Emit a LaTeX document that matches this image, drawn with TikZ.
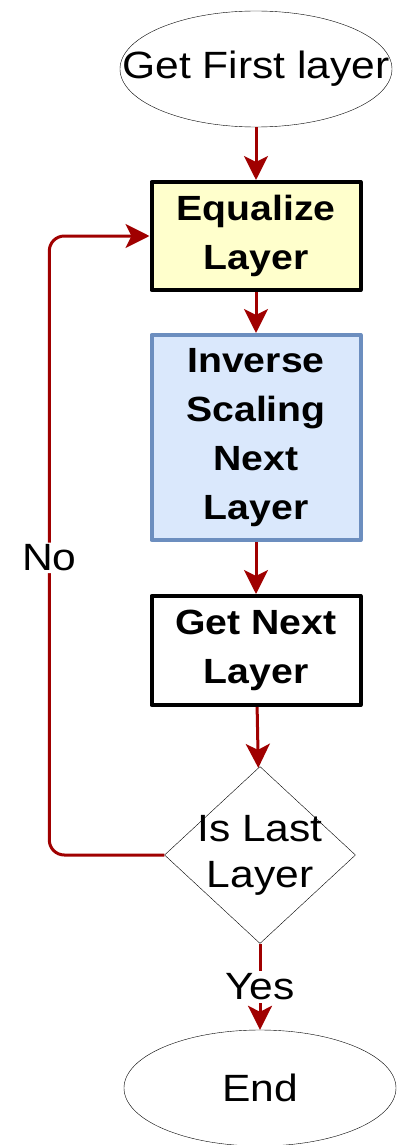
\documentclass[tikz,border=0pt]{standalone}
\usepackage{fontspec}
\setmainfont{Liberation Sans}[FakeStretch=1.12]
\usetikzlibrary{arrows.meta,shapes.geometric}

\definecolor{flowred}{RGB}{160,0,0}
\definecolor{eqfill}{RGB}{255,255,204}
\definecolor{invfill}{RGB}{218,232,252}
\definecolor{invline}{RGB}{108,142,191}

\begin{document}
\begin{tikzpicture}[x=1pt, y=-1pt, line join=round,
    >={Stealth[length=24pt,width=24pt,inset=6pt]},
    txt/.style={font=\fontsize{38}{46}\selectfont, align=center},
    term/.style={ellipse, draw, thin, inner sep=0pt, minimum width=272pt, minimum height=116pt},
    stepbox/.style={rectangle, draw, line width=4pt, minimum width=209pt, align=center,
      font=\bfseries\fontsize{35}{49}\selectfont},
    test/.style={diamond, draw, thin, inner sep=0pt, minimum width=191pt, minimum height=177pt},
    flow/.style={->, draw=flowred, line width=3pt}]
  \useasboundingbox (0,0) rectangle (398,1145);

  \node[term, label={[txt]center:Get First layer}] (first) at (256,69) {};
  \node[stepbox, fill=eqfill, minimum height=108pt] (eq) at (256,236) {Equalize\\Layer};
  \node[stepbox, fill=invfill, draw=invline, minimum height=205pt] (inv) at (256,437.5) {Inverse\\Scaling\\Next\\Layer};
  \node[stepbox, fill=white, minimum height=109pt] (nxt) at (256,650.5) {Get Next\\Layer};
  \node[test, label={[txt]center:{Is Last\\Layer}}] (last) at (260,855) {};
  \node[term, label={[txt]center:End}] (end) at (260,1088) {};

  \draw[flow] (first) -- (eq);
  \draw[flow] (eq) -- (inv);
  \draw[flow] (inv) -- (nxt);
  \draw[flow] (nxt) -- (last);
  \draw[flow] (last) -- node[txt, fill=white, inner sep=3pt] {Yes} (end);
  \draw[flow, rounded corners=15pt] (last.west) -- ++(-115,0) |- node[txt, pos=0.24, fill=white, inner sep=2pt] {No} (eq.west);
\end{tikzpicture}
\end{document}
